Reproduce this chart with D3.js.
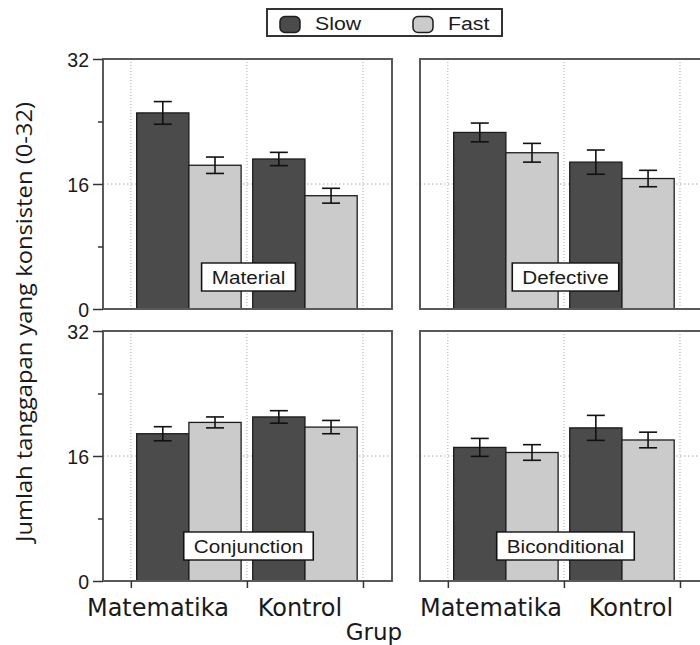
<!DOCTYPE html>
<html>
<head>
<meta charset="utf-8">
<script src="https://cdn.jsdelivr.net/npm/d3@7"></script>
<style>
  html, body { margin: 0; padding: 0; background: #fff; }
  svg { display: block; }
</style>
</head>
<body>
<svg id="chart" width="700" height="645"></svg>
<script>
// Groups along the x axis and response speed series
const groups = ["Matematika", "Kontrol"];
const speeds = ["Slow", "Fast"];
const panelNames = ["Material", "Defective", "Conjunction", "Biconditional"];

// Mean number of consistent responses, per panel: [Matematika, Kontrol]
const slowMeans = [[25.1, 19.2], [22.6, 18.8], [18.85, 21.0], [17.1, 19.6]];
const fastMeans = [[18.4, 14.5], [20.0, 16.7], [20.3, 19.7], [16.45, 18.05]];
// Standard errors, same layout
const slowErrs = [[1.45, 0.85], [1.2, 1.55], [0.9, 0.8], [1.15, 1.6]];
const fastErrs = [[1.05, 0.95], [1.2, 1.05], [0.7, 0.85], [1.0, 1.0]];

const yTicks = [0, 16, 32];
const yMinorTicks = [8, 24];
const yLabel = "Jumlah tanggapan yang konsisten (0-32)";
const xLabel = "Grup";

// Layout
const panelW = 289, panelH = 250;
const colX = [103, 420];
const rowY = [59, 331];
const colors = { Slow: "#4b4b4b", Fast: "#cbcbcb" };
const helv = "'Liberation Sans', Arial, Helvetica, sans-serif";
const xTickFont = "'DejaVu Sans', sans-serif";
// Horizontal nudges of the group labels under each column
const groupLabelShift = [[-31, -5], [-15, 9]];

const svg = d3.select("#chart");

const y = d3.scaleLinear().domain([0, 32]).range([panelH, 0]);
const x = d3.scaleLinear().domain([-0.24, 2.25]).range([0, panelW]);
const xGroup = d3.scaleBand().domain(groups).range([x(0), x(2)])
  .paddingInner(0.1).paddingOuter(0.05);
const xSpeed = d3.scaleBand().domain(speeds).range([0, xGroup.bandwidth()]);

panelNames.forEach((name, p) => {
  const col = p % 2, row = Math.floor(p / 2);
  const g = svg.append("g").attr("transform", `translate(${colX[col]},${rowY[row]})`);

  // dotted reference lines
  g.selectAll("line.vgrid").data([0, 1, 2]).join("line")
    .attr("class", "vgrid")
    .attr("x1", d => x(d)).attr("x2", d => x(d))
    .attr("y1", 0).attr("y2", panelH)
    .attr("stroke", "#a8a8a8").attr("stroke-width", 1)
    .attr("stroke-dasharray", "1,2");
  g.append("line")
    .attr("x1", 0).attr("x2", panelW)
    .attr("y1", y(16)).attr("y2", y(16))
    .attr("stroke", "#a8a8a8").attr("stroke-width", 1)
    .attr("stroke-dasharray", "1.5,2.5");

  // bars
  const rows = [];
  groups.forEach((grp, gi) => {
    rows.push({ grp, speed: "Slow", v: slowMeans[p][gi], e: slowErrs[p][gi] });
    rows.push({ grp, speed: "Fast", v: fastMeans[p][gi], e: fastErrs[p][gi] });
  });
  g.selectAll("rect.bar").data(rows).join("rect")
    .attr("class", "bar")
    .attr("x", d => xGroup(d.grp) + xSpeed(d.speed))
    .attr("width", xSpeed.bandwidth())
    .attr("y", d => y(d.v))
    .attr("height", d => y(0) - y(d.v))
    .attr("fill", d => colors[d.speed])
    .attr("stroke", "#1c1c1c").attr("stroke-width", 1.3);

  // error bars
  const cx = d => xGroup(d.grp) + xSpeed(d.speed) + xSpeed.bandwidth() / 2;
  const eb = g.selectAll("g.err").data(rows).join("g").attr("class", "err")
    .attr("stroke", "#111").attr("stroke-width", 1.6);
  eb.append("line").attr("x1", cx).attr("x2", cx)
    .attr("y1", d => y(d.v + d.e)).attr("y2", d => y(d.v - d.e));
  eb.append("line").attr("x1", d => cx(d) - 9).attr("x2", d => cx(d) + 9)
    .attr("y1", d => y(d.v + d.e)).attr("y2", d => y(d.v + d.e));
  eb.append("line").attr("x1", d => cx(d) - 9).attr("x2", d => cx(d) + 9)
    .attr("y1", d => y(d.v - d.e)).attr("y2", d => y(d.v - d.e));

  // panel frame
  g.append("rect").attr("x", 0).attr("y", 0)
    .attr("width", panelW).attr("height", panelH)
    .attr("fill", "none").attr("stroke", "#5a5a5a").attr("stroke-width", 2);

  // strip label box
  const lab = g.append("g")
    .attr("transform", `translate(${panelW / 2 + 1},${row === 0 ? 218 : 215}) scale(1.12,1)`);
  const t = lab.append("text")
    .attr("text-anchor", "middle").attr("dy", "0.36em")
    .attr("font-family", helv).attr("font-size", 18.5).attr("fill", "#1a1a1a")
    .text(name);
  const w = t.node().getComputedTextLength();
  lab.insert("rect", "text")
    .attr("x", -w / 2 - 9).attr("y", -14)
    .attr("width", w + 18).attr("height", 28)
    .attr("fill", "#fff").attr("stroke", "#111").attr("stroke-width", 1.4);

  // y axis on the left column
  if (col === 0) {
    const ax = g.append("g").call(d3.axisLeft(y).tickValues(yTicks).tickSize(10).tickPadding(4));
    ax.select(".domain").remove();
    ax.selectAll(".tick line").attr("stroke", "#333").attr("stroke-width", 1.5);
    ax.selectAll(".tick text").attr("font-family", helv).attr("font-size", 19.5)
      .attr("fill", "#1a1a1a").attr("dy", "0.36em");
    const mn = g.append("g").call(d3.axisLeft(y).tickValues(yMinorTicks).tickSize(5).tickFormat(""));
    mn.select(".domain").remove();
    mn.selectAll(".tick line").attr("stroke", "#333").attr("stroke-width", 1.5);
  }

  // x axis on the bottom row
  if (row === 1) {
    const ax = g.append("g").attr("transform", `translate(0,${panelH})`)
      .call(d3.axisBottom(x).tickValues([0, 1, 2]).tickSize(7).tickFormat(""));
    ax.select(".domain").remove();
    ax.selectAll(".tick line").attr("stroke", "#333").attr("stroke-width", 1.5);
    g.selectAll("text.grp").data(groups).join("text")
      .attr("class", "grp")
      .attr("x", (d, i) => xGroup(d) + xGroup.bandwidth() / 2 + groupLabelShift[col][i])
      .attr("y", panelH + 35)
      .attr("text-anchor", "middle")
      .attr("font-family", xTickFont).attr("font-size", 24).attr("fill", "#1a1a1a")
      .text(d => d);
  }
});

// axis titles
svg.append("text")
  .attr("transform", "translate(32,322) rotate(-90)")
  .attr("text-anchor", "middle")
  .attr("font-family", "'Open Sans', sans-serif").attr("font-size", 21)
  .attr("textLength", 440).attr("lengthAdjust", "spacingAndGlyphs")
  .attr("fill", "#1a1a1a")
  .text(yLabel);
svg.append("text")
  .attr("x", 374).attr("y", 640)
  .attr("text-anchor", "middle")
  .attr("font-family", xTickFont).attr("font-size", 23).attr("fill", "#1a1a1a")
  .text(xLabel);

// legend
const leg = svg.append("g");
leg.append("rect").attr("x", 267).attr("y", 9).attr("width", 235).attr("height", 27)
  .attr("fill", "#fff").attr("stroke", "#333").attr("stroke-width", 2);
const legX = [279, 412];
speeds.forEach((s, i) => {
  leg.append("rect").attr("x", legX[i] + 1).attr("y", 16.5).attr("width", 20).attr("height", 16)
    .attr("rx", 5).attr("ry", 5)
    .attr("fill", colors[s]).attr("stroke", "#1c1c1c").attr("stroke-width", 1.5);
  leg.append("g").attr("transform", `translate(${legX[i] + 36},29.5) scale(1.12,1)`)
    .append("text")
    .attr("font-family", helv).attr("font-size", 19).attr("fill", "#1a1a1a")
    .text(s);
});
</script>
</body>
</html>
